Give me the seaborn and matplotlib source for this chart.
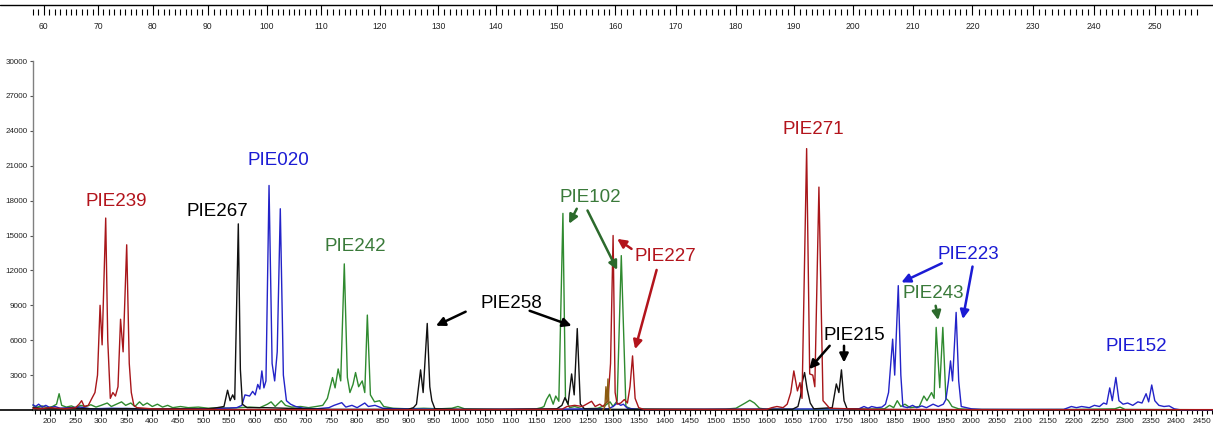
import numpy as np
import pandas as pd
import matplotlib
matplotlib.use('Agg')
import matplotlib.pyplot as plt
import seaborn as sns
from matplotlib.lines import Line2D

sns.set_style('white')
plt.rcParams['font.family'] = ['Liberation Sans', 'DejaVu Sans']

# ---------------- data (scan point, RFU) ----------------
green_pts = [(167,400),(175,250),(185,350),(195,200),(205,300),(213,500),(218,1400),(223,400),(232,250),
             (242,350),(250,200),(260,400),(270,300),(280,450),(290,250),(300,400),(312,600),(320,300),
             (330,500),(340,700),(348,400),(358,600),(366,300),(375,700),(382,400),(390,600),(400,300),
             (410,500),(420,250),(430,400),(440,200),(455,300),(470,200),(490,250),(510,150),(530,200),
             (550,150),(570,200),(590,250),(610,200),(625,500),(632,700),(640,300),(652,800),(660,400),
             (672,250),(690,300),(705,200),(720,300),(733,400),(742,1000),(752,2790),(757,1900),(763,3530),
             (768,2500),(775,12560),(781,2800),(786,1500),(792,2200),(797,3220),(803,2000),(810,2500),
             (815,1500),(820,8160),(826,1300),(834,700),(844,800),(852,300),(870,150),(900,100),(930,150),
             (960,100),(985,150),(997,300),(1010,100),(1040,80),(1080,60),(1120,80),(1150,100),(1160,200),
             (1165,300),(1170,900),(1176,1350),(1183,500),(1188,1200),(1194,750),(1202,16900),(1207,1000),
             (1215,200),(1225,300),(1240,100),(1270,150),(1285,400),(1294,700),(1300,300),(1308,800),
             (1316,13270),(1325,300),(1335,100),(1400,80),(1480,60),(1520,80),(1540,150),(1550,400),
             (1558,600),(1567,840),(1576,600),(1586,150),(1600,60),(1650,50),(1700,40),(1760,60),(1800,80),
             (1830,100),(1840,400),(1848,200),(1855,800),(1862,300),(1870,500),(1880,200),(1898,300),
             (1907,1200),(1913,800),(1922,1500),(1927,1000),(1931,7100),(1938,1920),(1944,7100),(1950,1000),
             (1955,800),(1962,300),(1975,100),(2000,50),(2100,40),(2200,50),(2280,100),(2290,250),(2300,50),
             (2400,30),(2471,20)]

black_pts = [(167,200),(200,100),(250,150),(300,80),(350,120),(400,80),(450,100),(500,80),(520,150),(540,300),
             (547,1700),(552,800),(557,1300),(561,900),(568,16000),(572,3500),(576,500),(585,200),(620,200),
             (660,150),(700,100),(750,60),(900,60),(910,200),(916,500),(924,3450),(929,1500),(937,7440),
             (942,2000),(946,800),(952,100),(1000,60),(1100,50),(1190,100),(1200,400),(1206,1060),(1212,500),
             (1219,3100),(1224,1300),(1230,7000),(1236,500),(1244,100),(1300,60),(1400,40),(1500,40),(1650,60),
             (1661,300),(1666,1200),(1670,2500),(1674,3220),(1679,1800),(1685,600),(1692,100),(1728,200),
             (1736,2240),(1741,1500),(1746,3450),(1751,800),(1757,100),(1800,40),(2000,30),(2471,20)]

blue_pts = [(167,450),(172,300),(178,500),(185,250),(192,400),(200,200),(210,300),(220,150),(240,200),(260,250),
            (280,100),(320,150),(400,100),(500,100),(540,150),(565,200),(575,400),(581,1300),(590,1200),
            (596,1600),(601,1300),(606,2200),(610,1800),(614,3360),(618,1900),(622,2500),(628,19300),(634,4000),
            (639,2500),(644,5000),(650,17300),(656,3000),(662,800),(670,500),(680,300),(695,150),(720,100),
            (745,200),(755,400),(770,630),(778,250),(790,400),(800,200),(815,600),(822,300),(835,400),(850,150),
            (880,100),(920,80),(1000,50),(1290,100),(1300,300),(1308,600),(1315,400),(1320,500),(1328,150),
            (1350,50),(1780,100),(1790,300),(1798,150),(1805,300),(1815,200),(1825,250),(1832,500),(1838,1500),
            (1846,6090),(1850,3000),(1857,10690),(1862,3000),(1866,300),(1875,200),(1885,400),(1893,200),
            (1903,350),(1912,200),(1925,500),(1935,300),(1945,500),(1950,900),(1955,2500),(1959,4220),
            (1963,2500),(1970,8390),(1975,2500),(1980,300),(1990,200),(2000,100),(2020,50),(2180,50),(2195,300),
            (2205,200),(2215,300),(2230,200),(2240,400),(2250,300),(2258,600),(2264,500),(2270,1900),(2275,800),
            (2282,2800),(2288,800),(2296,500),(2305,600),(2315,400),(2325,700),(2333,600),(2341,1400),(2346,700),
            (2352,2150),(2358,800),(2366,400),(2376,300),(2386,350),(2396,100),(2410,0),(2471,0)]

red_pts = [(167,150),(180,100),(200,200),(230,100),(250,200),(257,500),(262,800),(267,300),(275,400),(282,1000),
           (288,1500),(293,3000),(298,9000),(302,5600),(309,16500),(313,6000),(318,1000),(323,1500),(328,1200),
           (333,2000),(338,7800),(343,5000),(350,14200),(355,4000),(359,1500),(364,400),(370,200),(400,100),
           (450,60),(550,40),(700,30),(900,20),(1200,60),(1210,300),(1225,400),(1240,300),(1258,750),(1265,300),
           (1274,500),(1280,300),(1290,800),(1295,4000),(1300,15000),(1304,1500),(1308,500),(1315,600),
           (1322,900),(1328,600),(1333,2000),(1338,4650),(1343,1000),(1350,200),(1360,50),(1600,50),(1610,200),
           (1620,300),(1632,200),(1640,500),(1647,1500),(1653,3360),(1660,1640),(1665,2350),(1669,1000),
           (1678,22470),(1684,3100),(1690,3000),(1694,2000),(1702,19160),(1710,800),(1723,150),(1800,50),
           (2000,30),(2471,30)]

brown_pts = [(1280,0),(1284,300),(1286,2000),(1288,600),(1290,2670),(1292,300),(1295,0)]

# top size scale: base pairs and the scan point under each label
top_bp = [60, 70, 80, 90, 100, 110, 120, 130, 140, 150, 160, 170, 180, 190, 200, 210, 220, 230, 240, 250]
top_scan = [184, 290, 397, 505, 620, 727, 841, 956, 1069, 1188, 1302, 1421, 1538, 1651, 1768, 1884,
            2001, 2120, 2239, 2358]

y_ticks = [3000, 6000, 9000, 12000, 15000, 18000, 21000, 24000, 27000, 30000]
x_major = list(range(200, 2451, 50))

# marker labels
label_txt = ['PIE239', 'PIE267', 'PIE020', 'PIE242', 'PIE258', 'PIE102', 'PIE227', 'PIE271',
             'PIE215', 'PIE223', 'PIE243', 'PIE152']
label_x = [330, 528, 647, 796, 1102, 1255, 1403, 1692, 1771, 1993, 1925, 2321]
label_y = [17930, 17070, 21460, 14090, 9180, 18270, 13190, 24140, 6380, 13400, 10040, 5430]
label_col = ['red', 'black', 'blue', 'green', 'black', 'green', 'red', 'red', 'black', 'blue', 'green', 'blue']

arrow_from = [(1012, 8450), (1137, 8530), (1229, 17300), (1250, 17150), (1336, 13850), (1385, 12040),
              (1723, 5520), (1751, 5520), (1942, 12610), (2002, 12330), (1930, 8960)]
arrow_to = [(954, 7240), (1219, 7240), (1214, 16010), (1308, 12040), (1308, 14710), (1343, 5230),
            (1683, 3510), (1751, 4080), (1863, 10970), (1983, 7820), (1935, 7730)]
arrow_col = ['black', 'black', 'green', 'green', 'red', 'red', 'black', 'black', 'blue', 'blue', 'green']

# ---------------- styling ----------------
trace_colors = {'green': '#2f8a2f', 'blue': '#2323c8', 'black': '#111111', 'red': '#a8161a', 'brown': '#8a5a10'}
text_colors = {'red': '#b3141c', 'black': '#000000', 'blue': '#1b1bd4', 'green': '#3a7a3a'}
arrow_colors = {'red': '#b3141c', 'black': '#000000', 'blue': '#1b1bd4', 'green': '#2c6a2c'}

W, H = 1213, 429
fig = plt.figure(figsize=(W / 100, H / 100), dpi=100)
ax = fig.add_axes([33 / W, 19 / H, 1180 / W, 349 / H])
XMIN, XMAX = 167, 167 + 1180 / 0.512

for pts, key in [(green_pts, 'green'), (blue_pts, 'blue'), (black_pts, 'black'),
                 (red_pts, 'red'), (brown_pts, 'brown')]:
    df = pd.DataFrame(pts, columns=['scan', 'rfu'])
    sns.lineplot(data=df, x='scan', y='rfu', color=trace_colors[key], lw=1.0, ax=ax,
                 estimator=None, sort=False, legend=False)
for ln in ax.lines:
    ln.set_clip_on(False)
    ln.set_zorder(3)

ax.set_xlim(XMIN, XMAX)
ax.set_ylim(0, 30000)
ax.set_xlabel('')
ax.set_ylabel('')
ax.spines['top'].set_visible(False)
ax.spines['right'].set_visible(False)
ax.spines['left'].set_color('#808080')
ax.spines['left'].set_linewidth(1.0)
ax.spines['bottom'].set_color('black')
ax.spines['bottom'].set_linewidth(1.2)
ax.spines['bottom'].set_zorder(2)

ax.set_yticks(y_ticks, labels=[str(v) for v in y_ticks])
ax.set_xticks(x_major, labels=[str(v) for v in x_major])
ax.set_xticks(list(range(170, 2471, 10)), minor=True)
ax.tick_params(axis='y', left=True, direction='out', length=2.5, width=0.8, color='#555555',
               labelsize=5.8, labelcolor='#222222', pad=1.5)
ax.tick_params(axis='x', which='major', bottom=True, direction='out', length=4.5, width=0.8,
               color='black', labelsize=6.0, labelcolor='#222222', pad=1.5)
ax.tick_params(axis='x', which='minor', bottom=True, direction='out', length=2.8, width=0.8,
               color='black')

# top base-pair scale
def bp_to_scan(b):
    b = np.asarray(b, dtype=float)
    s = np.interp(b, top_bp, top_scan)
    lo = (top_scan[1] - top_scan[0]) / (top_bp[1] - top_bp[0])
    hi = (top_scan[-1] - top_scan[-2]) / (top_bp[-1] - top_bp[-2])
    s = np.where(b < top_bp[0], top_scan[0] + (b - top_bp[0]) * lo, s)
    s = np.where(b > top_bp[-1], top_scan[-1] + (b - top_bp[-1]) * hi, s)
    return s

ax_t = fig.add_axes([33 / W, (H - 15) / H, 1180 / W, 1e-4])
ax_t.set_xlim(XMIN, XMAX)
ax_t.set_yticks([])
for s in ax_t.spines.values():
    s.set_visible(False)
ax_t.set_xticks(top_scan, labels=[str(b) for b in top_bp])
minor_bp = [b for b in range(58, 258) if b % 10 != 0]
ax_t.set_xticks(bp_to_scan(minor_bp), minor=True)
ax_t.tick_params(axis='x', which='major', bottom=True, direction='in', length=7.2, width=0.8,
                 color='black', labelsize=6.2, labelcolor='#222222', pad=5)
ax_t.tick_params(axis='x', which='minor', bottom=True, direction='in', length=4.3, width=0.8,
                 color='black')
ax_t.patch.set_visible(False)

fig.add_artist(Line2D([0, 1], [(H - 5) / H] * 2, color='black', lw=1.0))
fig.add_artist(Line2D([0, 33 / W], [19 / H] * 2, color='black', lw=1.2))

# labels and arrows
for t, x, y, c in zip(label_txt, label_x, label_y, label_col):
    ax.text(x, y, t, ha='center', va='center', fontsize=13.5, color=text_colors[c], zorder=5)
for (x0, y0), (x1, y1), c in zip(arrow_from, arrow_to, arrow_col):
    ax.annotate('', xy=(x1, y1), xytext=(x0, y0),
                arrowprops=dict(arrowstyle='-|>', color=arrow_colors[c], lw=1.8,
                                mutation_scale=13, shrinkA=0, shrinkB=0), zorder=5)

fig.savefig('out.png', dpi=100)
